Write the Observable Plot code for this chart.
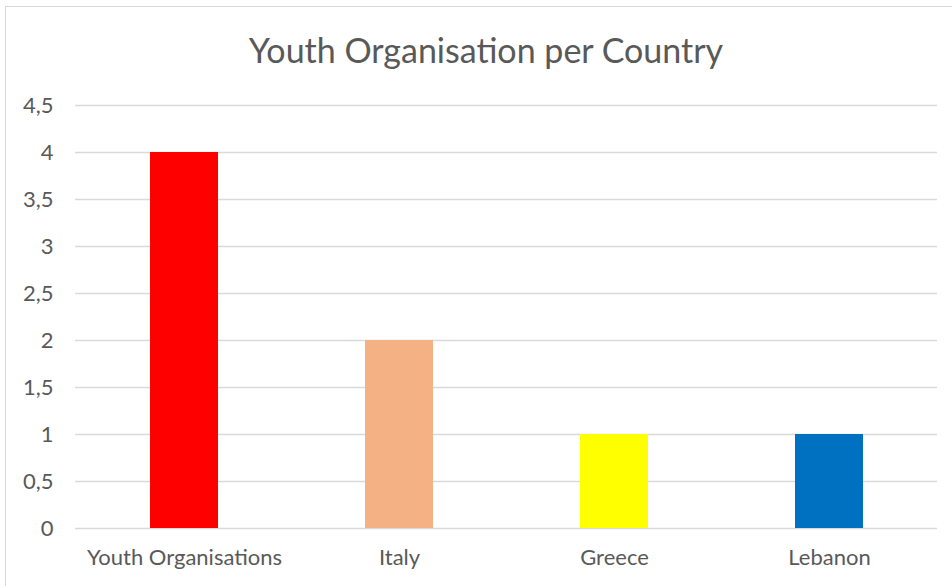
<!DOCTYPE html>
<html>
<head>
<meta charset="utf-8">
<script src="https://cdn.jsdelivr.net/npm/d3@7"></script>
<script src="https://cdn.jsdelivr.net/npm/@observablehq/plot@0.6"></script>
<style>
  html, body { margin: 0; padding: 0; background: #fff; }
  #wrap { position: relative; width: 952px; height: 586px; overflow: hidden; font-family: Lato, "Open Sans", sans-serif; }
  #frame { position: absolute; left: 5px; top: 6px; width: 960px; height: 600px; border: 1px solid #d9d9d9; box-sizing: border-box; }
  #title { position: absolute; left: 0; width: 972px; top: 33px; text-align: center; font-size: 34px; color: #595959; line-height: 1; }
  #chart { position: absolute; left: 0; top: 0; }
</style>
</head>
<body>
<div id="wrap">
  <div id="frame"></div>
  <div id="title">Youth Organisation per Country</div>
  <div id="chart"></div>
</div>
<script>
const categories = ["Youth Organisations", "Italy", "Greece", "Lebanon"];
const values = [4, 2, 1, 1];
const colors = ["#ff0000", "#f4b183", "#ffff00", "#0070c0"];
const yTicks = [0, 0.5, 1, 1.5, 2, 2.5, 3, 3.5, 4, 4.5];

const data = categories.map((c, i) => ({category: c, value: values[i], color: colors[i]}));

const plot = Plot.plot({
  width: 952,
  height: 586,
  marginLeft: 75,
  marginRight: 15,
  marginTop: 105,
  marginBottom: 58,
  style: {fontFamily: "Lato, 'Open Sans', sans-serif", fontSize: "22px", color: "#595959", background: "transparent", overflow: "visible"},
  x: {domain: categories, paddingInner: 0.684, paddingOuter: 0.342, label: null},
  y: {domain: [0, 4.5], label: null},
  marks: [
    Plot.ruleY(yTicks, {stroke: "#d9d9d9", strokeWidth: 1.3, strokeOpacity: 1}),
    Plot.barY(data, {x: "category", y: "value", fill: "color"}),
    Plot.axisY(yTicks, {tickSize: 0, tickPadding: 22, tickFormat: d => String(d).replace(".", ","), fill: "#595959", fontSize: 22}),
    Plot.axisX({tickSize: 0, tickPadding: 21, fill: "#595959", fontSize: 22})
  ]
});
document.getElementById("chart").appendChild(plot);
</script>
</body>
</html>
